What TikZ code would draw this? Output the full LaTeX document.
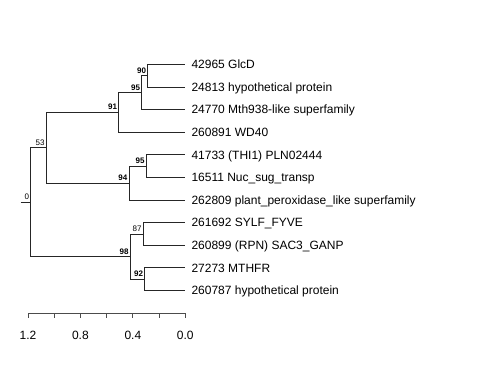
\documentclass[tikz,border=0pt]{standalone}
\usepackage{fontspec}
\setmainfont{Liberation Sans}
\begin{document}
\begin{tikzpicture}[x=1pt,y=-1pt,
  edge/.style={draw=black!85,line width=0.8pt},
  leaflab/.style={anchor=base west,inner sep=0pt,font=\fontsize{12}{14}\selectfont},
  bs/.style={anchor=base east,inner sep=0pt,font=\fontsize{8}{9}\selectfont\bfseries},
  ns/.style={anchor=base east,inner sep=0pt,font=\fontsize{8}{9}\selectfont},
  axlab/.style={anchor=center,inner sep=0pt,font=\fontsize{12}{14}\selectfont}]
\useasboundingbox (0,0) rectangle (480,384);
% leaf tips
\coordinate (l1) at (185.3,64.3);
\coordinate (l2) at (185.3,87.0);
\coordinate (l3) at (185.3,109.5);
\coordinate (l4) at (185.3,132.2);
\coordinate (l5) at (185.3,154.7);
\coordinate (l6) at (185.3,177.3);
\coordinate (l7) at (185.3,200.0);
\coordinate (l8) at (185.3,222.6);
\coordinate (l9) at (185.3,245.2);
\coordinate (l10) at (185.3,267.8);
\coordinate (l11) at (185.3,290.4);
% internal nodes
\coordinate (n90) at (147.7,75.7);
\coordinate (n95a) at (141.7,92.6);
\coordinate (n91) at (118.7,112.4);
\coordinate (n95b) at (146.3,166.0);
\coordinate (n94) at (129.0,183.0);
\coordinate (n53) at (46.3,147.7);
\coordinate (n87) at (143.3,233.9);
\coordinate (n92) at (144.7,279.1);
\coordinate (n98) at (130.3,256.5);
\coordinate (root) at (30.7,202.1);
\coordinate (stub) at (20.7,202.1);
% edges
\draw[edge] (n90) |- (l1);
\draw[edge] (n90) |- (l2);
\draw[edge] (n95a) |- (n90);
\draw[edge] (n95a) |- (l3);
\draw[edge] (n91) |- (n95a);
\draw[edge] (n91) |- (l4);
\draw[edge] (n95b) |- (l5);
\draw[edge] (n95b) |- (l6);
\draw[edge] (n94) |- (n95b);
\draw[edge] (n94) |- (l7);
\draw[edge] (n53) |- (n91);
\draw[edge] (n53) |- (n94);
\draw[edge] (n87) |- (l8);
\draw[edge] (n87) |- (l9);
\draw[edge] (n92) |- (l10);
\draw[edge] (n92) |- (l11);
\draw[edge] (n98) |- (n87);
\draw[edge] (n98) |- (n92);
\draw[edge] (root) |- (n53);
\draw[edge] (root) |- (n98);
\draw[edge] (stub) -- (root);
% leaf labels
\node[leaflab] (t1) at ([shift={(6,4.3)}]l1) {42965 GlcD};
\node[leaflab] (t2) at ([shift={(6,4.3)}]l2) {24813 hypothetical protein};
\node[leaflab] (t3) at ([shift={(6,4.3)}]l3) {24770 Mth938-like superfamily};
\node[leaflab] (t4) at ([shift={(6,4.3)}]l4) {260891 WD40};
\node[leaflab] (t5) at ([shift={(6,4.3)}]l5) {41733 (THI1) PLN02444};
\node[leaflab] (t6) at ([shift={(6,4.3)}]l6) {16511 Nuc\_sug\_transp};
\node[leaflab] (t7) at ([shift={(6,4.3)}]l7) {262809 plant\_peroxidase\_like superfamily};
\node[leaflab] (t8) at ([shift={(6,4.3)}]l8) {261692 SYLF\_FYVE};
\node[leaflab] (t9) at ([shift={(6,4.3)}]l9) {260899 (RPN) SAC3\_GANP};
\node[leaflab] (t10) at ([shift={(6,4.3)}]l10) {27273 MTHFR};
\node[leaflab] (t11) at ([shift={(6,4.3)}]l11) {260787 hypothetical protein};
% support labels
\node[bs] (s90) at ([shift={(-1.5,-2.5)}]n90) {90};
\node[bs] (s95a) at ([shift={(-1.5,-2.5)}]n95a) {95};
\node[bs] (s91) at ([shift={(-1.5,-2.5)}]n91) {91};
\node[bs] (s95b) at ([shift={(-1.5,-2.5)}]n95b) {95};
\node[bs] (s94) at ([shift={(-1.5,-2.5)}]n94) {94};
\node[ns] (s53) at ([shift={(-1.5,-2.5)}]n53) {53};
\node[ns] (s87) at ([shift={(-1.5,-2.5)}]n87) {87};
\node[bs] (s92) at ([shift={(-1.5,-2.5)}]n92) {92};
\node[bs] (s98) at ([shift={(-1.5,-2.5)}]n98) {98};
\node[ns] (s0) at ([shift={(-1.5,-2.5)}]root) {0};
% scale axis
\coordinate (a0) at (28,313);
\coordinate (a6) at (185.3,313);
\draw[edge,draw=black!70] (a0) -- (a6);
\foreach \i in {0,...,6} {
  \coordinate (tk\i) at (28+\i*26.22,313);
  \draw[edge,draw=black!70] (tk\i) -- ++(0,5);
}
\node[axlab] (x12) at (28,335) {1.2};
\node[axlab] (x08) at (80.4,335) {0.8};
\node[axlab] (x04) at (132.9,335) {0.4};
\node[axlab] (x00) at (185.3,335) {0.0};
\end{tikzpicture}
\end{document}
